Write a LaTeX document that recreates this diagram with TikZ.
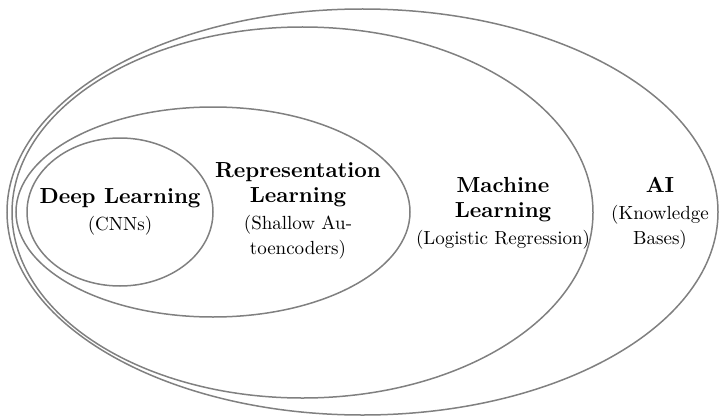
\documentclass[tikz,border=0pt]{standalone}
\newcommand{\bt}[1]{{\fontsize{10.9pt}{13pt}\selectfont\bfseries #1}}
\begin{document}
\begin{tikzpicture}[x=0.5pt,y=-0.5pt,
  setline/.style={draw=black!50, line width=0.75pt},
  lbl/.style={align=center, inner sep=0pt, font=\fontsize{9.5pt}{12.5pt}\selectfont}]
\useasboundingbox (0,0) rectangle (721,417);
\draw[setline] (362.5,212) ellipse [x radius=177.75pt, y radius=101.5pt];
\draw[setline] (302.5,212.5) ellipse [x radius=145.25pt, y radius=92.75pt];
\draw[setline] (213,212) ellipse [x radius=98.5pt, y radius=52.5pt];
\draw[setline] (120,212) ellipse [x radius=46.5pt, y radius=37pt];
\node[lbl] (dl) at (120,212) {\bt{Deep Learning}\\[1pt](CNNs)};
\node[lbl] (rl) at (298,211) {\bt{Representation}\\\bt{Learning}\\[1pt](Shallow Au-\\toencoders)};
\node[lbl] (ml) at (503,213) {\bt{Machine}\\\bt{Learning}\\[1pt](Logistic Regression)};
\node[lbl] (ai) at (660,213) {\bt{AI}\\[1pt](Knowledge\\Bases)};
\end{tikzpicture}
\end{document}
